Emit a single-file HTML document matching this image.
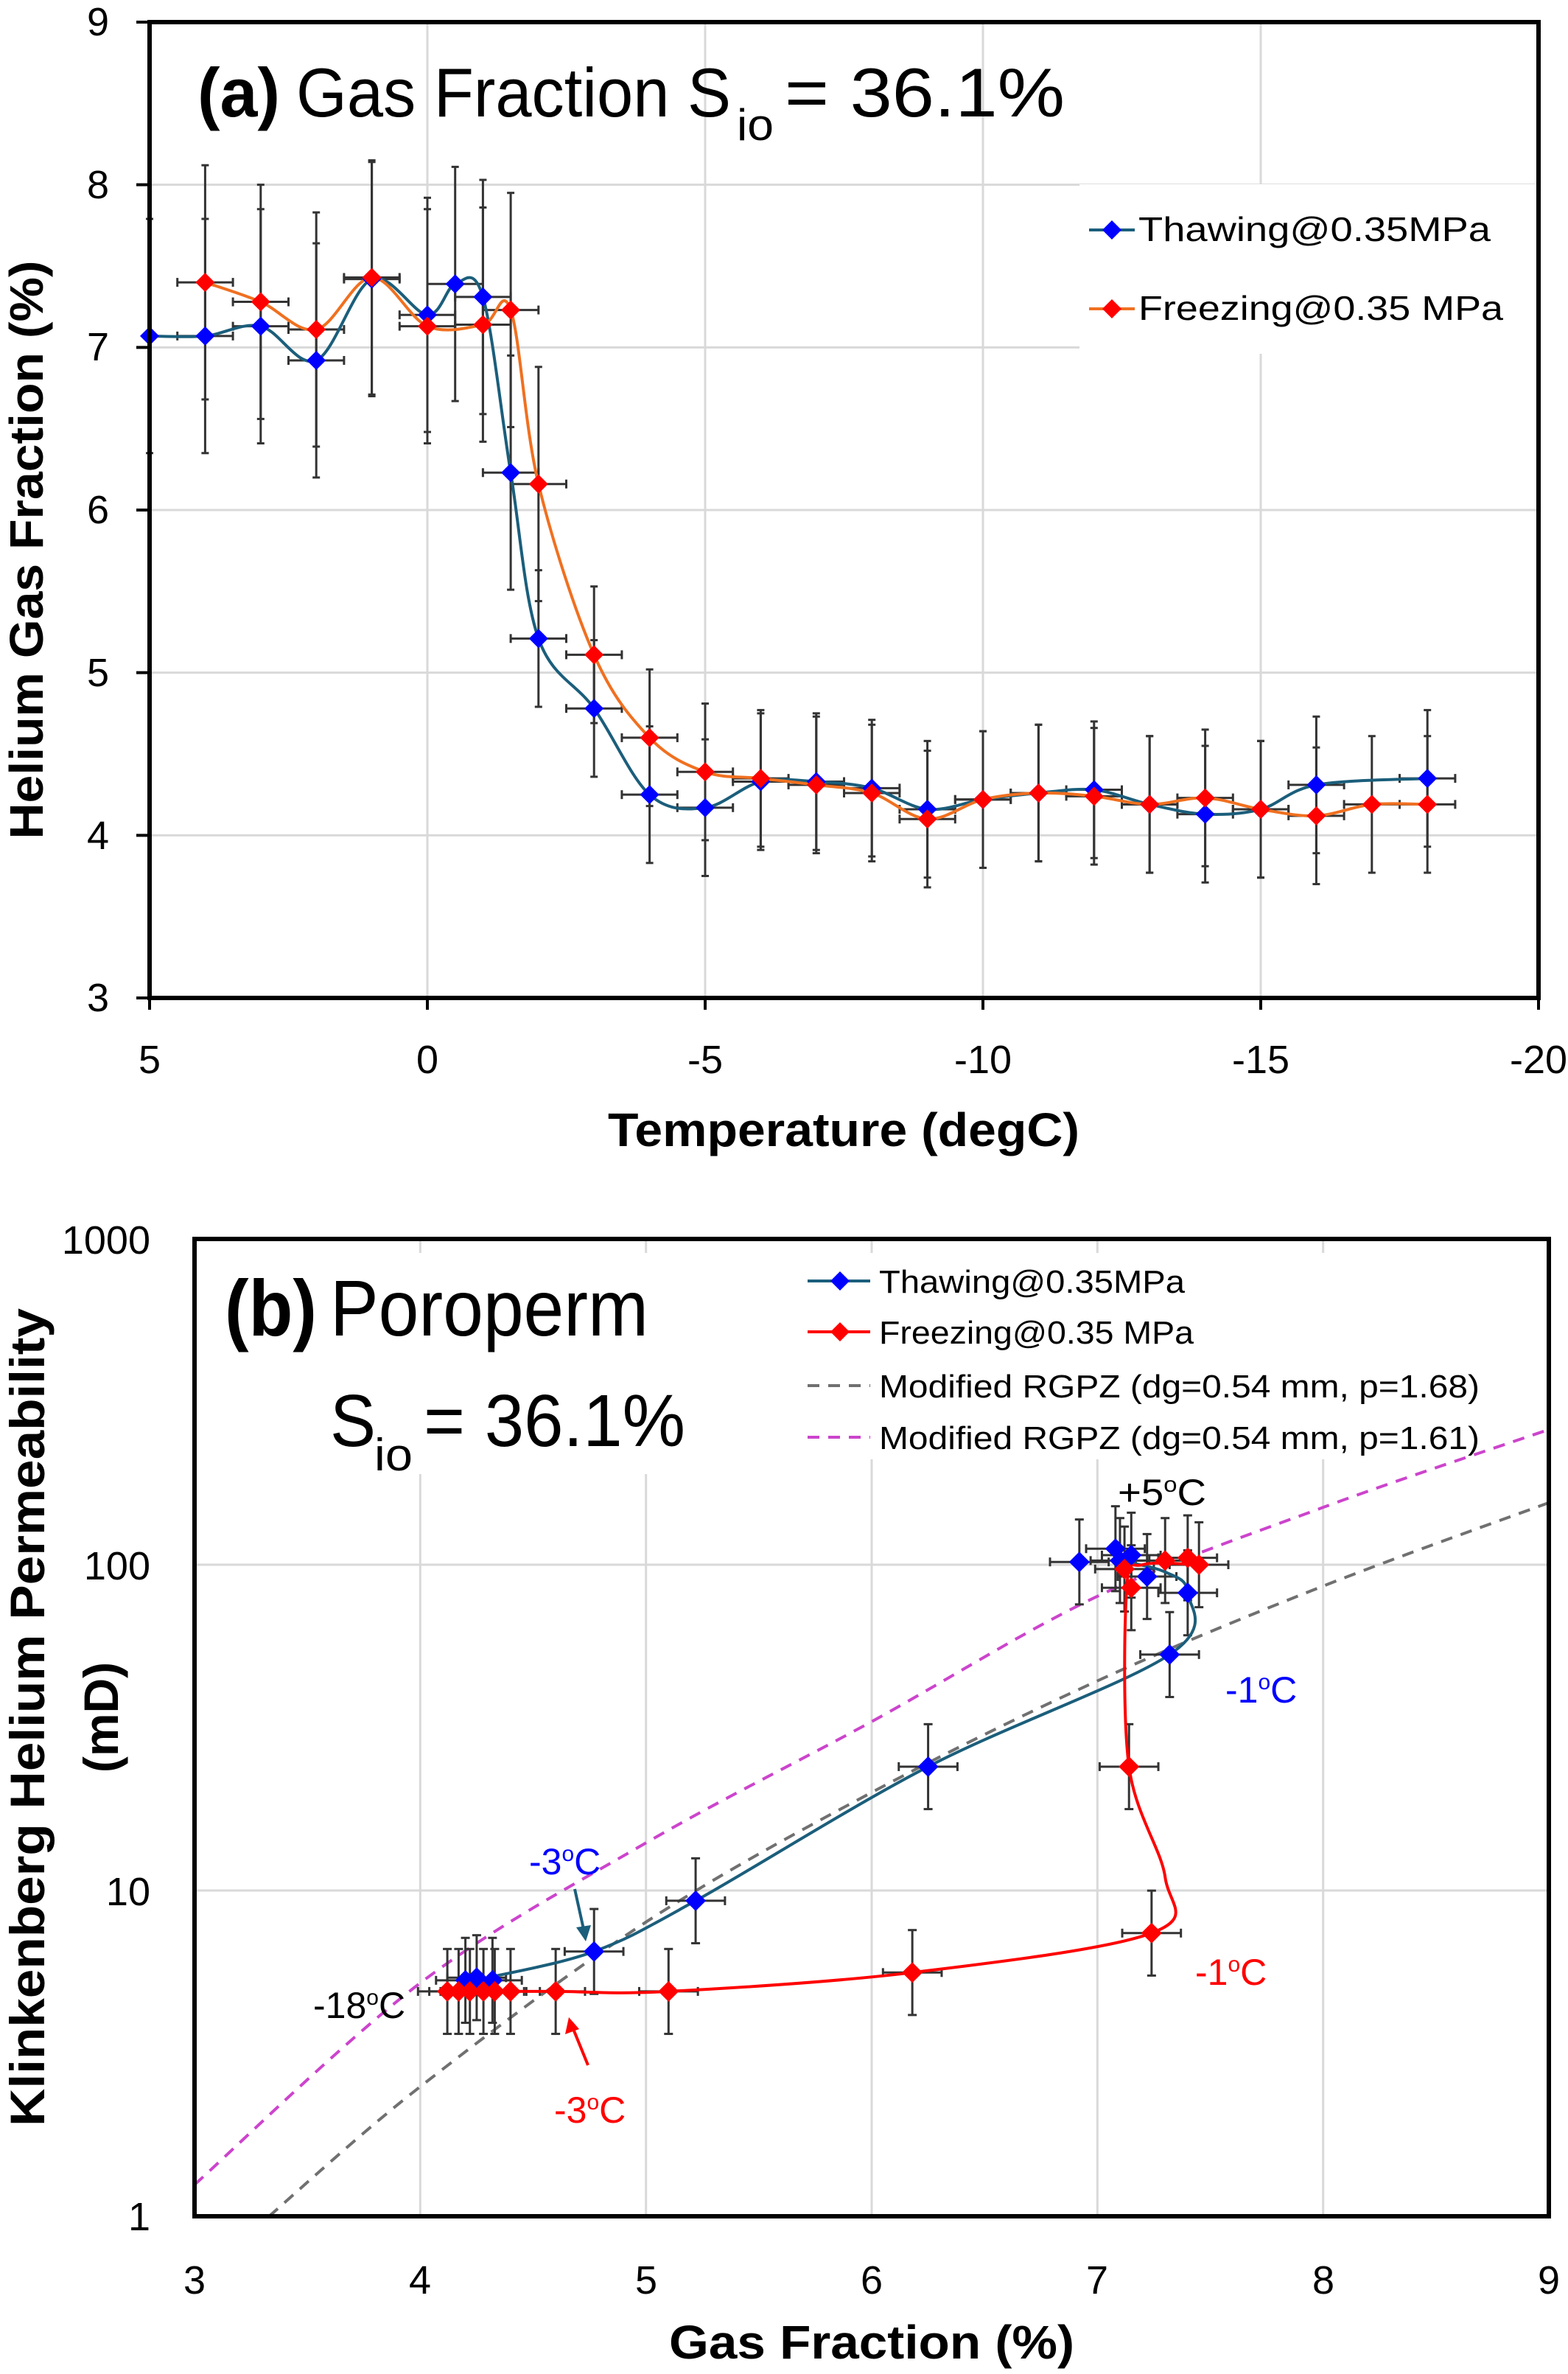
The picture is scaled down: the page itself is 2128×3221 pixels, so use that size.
<!DOCTYPE html>
<html><head><meta charset="utf-8">
<style>
html,body{margin:0;padding:0;background:#fff;}
svg{display:block;}
text{font-family:"Liberation Sans",sans-serif;fill:#000;}
</style></head>
<body>
<svg id="s" width="2128" height="3221" viewBox="0 0 2128 3221" xmlns="http://www.w3.org/2000/svg">
<rect width="2128" height="3221" fill="#fff"/>
<g id="g1"></g>
<g id="g2"></g>
<rect x="1465" y="250" width="620" height="230" fill="#fff"/>
<g id="leg1"></g>
<text x="268" y="158" font-size="94" font-weight="bold" textLength="112" lengthAdjust="spacingAndGlyphs">(a)</text>
<text x="402" y="158" font-size="94" textLength="590" lengthAdjust="spacingAndGlyphs">Gas Fraction S</text>
<text x="1000" y="190" font-size="60" textLength="50" lengthAdjust="spacingAndGlyphs">io</text>
<text x="1065" y="158" font-size="94" textLength="380" lengthAdjust="spacingAndGlyphs">= 36.1%</text>
<text x="1545" y="327" font-size="46" textLength="478" lengthAdjust="spacingAndGlyphs">Thawing@0.35MPa</text>
<text x="1545" y="434" font-size="46" textLength="495" lengthAdjust="spacingAndGlyphs">Freezing@0.35 MPa</text>
<g font-size="54" text-anchor="end">
<text x="148" y="48">9</text><text x="148" y="269">8</text><text x="148" y="489">7</text><text x="148" y="710">6</text><text x="148" y="931">5</text><text x="148" y="1152">4</text><text x="148" y="1372">3</text>
</g>
<g font-size="54" text-anchor="middle">
<text x="203" y="1456">5</text><text x="580" y="1456">0</text><text x="957" y="1456">-5</text><text x="1334" y="1456">-10</text><text x="1711" y="1456">-15</text><text x="2088" y="1456">-20</text>
</g>
<text x="1145" y="1555" font-size="64" font-weight="bold" text-anchor="middle" textLength="640" lengthAdjust="spacingAndGlyphs">Temperature (degC)</text>
<text transform="translate(58,746) rotate(-90)" font-size="64" font-weight="bold" text-anchor="middle" textLength="785" lengthAdjust="spacingAndGlyphs">Helium Gas Fraction (%)</text>

<text x="305" y="1812" font-size="108" font-weight="bold" textLength="125" lengthAdjust="spacingAndGlyphs">(b)</text>
<text x="448" y="1812" font-size="108" textLength="432" lengthAdjust="spacingAndGlyphs">Poroperm</text>
<text x="448" y="1962" font-size="100" textLength="62" lengthAdjust="spacingAndGlyphs">S</text>
<text x="508" y="1995" font-size="62" textLength="52" lengthAdjust="spacingAndGlyphs">io</text>
<text x="575" y="1962" font-size="100" textLength="355" lengthAdjust="spacingAndGlyphs">= 36.1%</text>
<g id="leg2"></g>
<text x="1193" y="1754" font-size="44" textLength="415" lengthAdjust="spacingAndGlyphs">Thawing@0.35MPa</text>
<text x="1193" y="1823" font-size="44" textLength="427" lengthAdjust="spacingAndGlyphs">Freezing@0.35 MPa</text>
<text x="1193" y="1896" font-size="44" textLength="815" lengthAdjust="spacingAndGlyphs">Modified RGPZ (dg=0.54 mm, p=1.68)</text>
<text x="1193" y="1966" font-size="44" textLength="815" lengthAdjust="spacingAndGlyphs">Modified RGPZ (dg=0.54 mm, p=1.61)</text>
<text x="1517" y="2042" font-size="50" textLength="120" lengthAdjust="spacingAndGlyphs">+5<tspan font-size="30" dy="-18">o</tspan><tspan dy="18">C</tspan></text>
<text x="1663" y="2310" font-size="50" style="fill:#0000ff">-1<tspan font-size="30" dy="-18">o</tspan><tspan dy="18">C</tspan></text>
<text x="718" y="2543" font-size="50" style="fill:#0000ff">-3<tspan font-size="30" dy="-18">o</tspan><tspan dy="18">C</tspan></text>
<text x="425" y="2738" font-size="50">-18<tspan font-size="30" dy="-18">o</tspan><tspan dy="18">C</tspan></text>
<text x="1622" y="2693" font-size="50" style="fill:#ff0000">-1<tspan font-size="30" dy="-18">o</tspan><tspan dy="18">C</tspan></text>
<text x="752" y="2880" font-size="50" style="fill:#ff0000">-3<tspan font-size="30" dy="-18">o</tspan><tspan dy="18">C</tspan></text>
<g font-size="54" text-anchor="end">
<text x="204" y="1701">1000</text><text x="204" y="2143">100</text><text x="204" y="2585">10</text><text x="204" y="3026">1</text>
</g>
<g font-size="54" text-anchor="middle">
<text x="264" y="3112">3</text><text x="570" y="3112">4</text><text x="877" y="3112">5</text><text x="1183" y="3112">6</text><text x="1489" y="3112">7</text><text x="1796" y="3112">8</text><text x="2102" y="3112">9</text>
</g>
<text x="1183" y="3200" font-size="64" font-weight="bold" text-anchor="middle" textLength="550" lengthAdjust="spacingAndGlyphs">Gas Fraction (%)</text>
<text transform="translate(60,2330) rotate(-90)" font-size="66" font-weight="bold" text-anchor="middle" textLength="1110" lengthAdjust="spacingAndGlyphs">Klinkenberg Helium Permeability</text>
<text transform="translate(160,2330) rotate(-90)" font-size="66" font-weight="bold" text-anchor="middle">(mD)</text>
</svg>
<script>
var NS="http://www.w3.org/2000/svg";
function el(p,t,a){var e=document.createElementNS(NS,t);for(var k in a)e.setAttribute(k,a[k]);p.appendChild(e);return e;}
function cr(pts){if(pts.length<2)return"";var d="M"+pts[0][0]+","+pts[0][1];for(var i=0;i<pts.length-1;i++){var p0=pts[i-1]||pts[i],p1=pts[i],p2=pts[i+1],p3=pts[i+2]||p2;var t=6;d+=" C"+(p1[0]+(p2[0]-p0[0])/t)+","+(p1[1]+(p2[1]-p0[1])/t)+" "+(p2[0]-(p3[0]-p1[0])/t)+","+(p2[1]-(p3[1]-p1[1])/t)+" "+p2[0]+","+p2[1];}return d;}
function dia(p,x,y,c,r){el(p,"path",{d:"M"+x+","+(y-r)+" L"+(x+r)+","+y+" L"+x+","+(y+r)+" L"+(x-r)+","+y+"Z",fill:c});}
function eb(p,x1,y1,x2,y2,cap,vert){el(p,"line",{x1:x1,y1:y1,x2:x2,y2:y2,stroke:"#333",'stroke-width':3});
 if(vert){el(p,"line",{x1:x1-cap,y1:y1,x2:x1+cap,y2:y1,stroke:"#333",'stroke-width':3});el(p,"line",{x1:x2-cap,y1:y2,x2:x2+cap,y2:y2,stroke:"#333",'stroke-width':3});}
 else{el(p,"line",{x1:x1,y1:y1-cap,x2:x1,y2:y1+cap,stroke:"#333",'stroke-width':3});el(p,"line",{x1:x2,y1:y2-cap,x2:x2,y2:y2+cap,stroke:"#333",'stroke-width':3});}}
var g1=document.getElementById("g1");
var L=203,R=2088,T=30,B=1354;
function X1(t){return L+(5-t)*(R-L)/25;} function Y1(v){return B-(v-3)*(B-T)/6;}
for(var v=4;v<=8;v++)el(g1,"line",{x1:L,x2:R,y1:Y1(v),y2:Y1(v),stroke:"#d9d9d9",'stroke-width':3});
for(var t=0;t>=-15;t-=5)el(g1,"line",{x1:X1(t),x2:X1(t),y1:T,y2:B,stroke:"#d9d9d9",'stroke-width':3});
for(var v=3;v<=9;v++)el(g1,"line",{x1:L-18,x2:L,y1:Y1(v),y2:Y1(v),stroke:"#000",'stroke-width':4});
for(var t=5;t>=-20;t-=5)el(g1,"line",{x1:X1(t),x2:X1(t),y1:B,y2:B+16,stroke:"#000",'stroke-width':4});
var th=[[5,7.07],[4,7.07],[3,7.13],[2,6.92],[1,7.42],[0,7.2],[-0.5,7.39],[-1,7.31],[-1.5,6.23],[-2,5.21],[-3,4.78],[-4,4.25],[-5,4.17],[-6,4.33],[-7,4.33],[-8,4.29],[-9,4.16],[-10,4.22],[-11,4.26],[-12,4.28],[-13,4.19],[-14,4.13],[-15,4.16],[-16,4.31],[-18,4.35]];
var fr=[[4,7.4],[3,7.28],[2,7.11],[1,7.43],[0,7.13],[-1,7.14],[-1.5,7.23],[-2,6.16],[-3,5.11],[-4,4.6],[-5,4.39],[-6,4.35],[-7,4.31],[-8,4.26],[-9,4.1],[-10,4.22],[-11,4.26],[-12,4.24],[-13,4.19],[-14,4.23],[-15,4.16],[-16,4.12],[-17,4.19],[-18,4.19]];
function ebs1(d){d.forEach(function(p){var e=p[1]>5.5?0.72:0.42;var x=X1(p[0]),y=Y1(p[1]);eb(g1,x,Math.max(Y1(p[1]+e),T),x,Y1(p[1]-e),5,true);if(p[0]<5)eb(g1,X1(p[0]+0.5),y,X1(p[0]-0.5),y,6,false);});}
ebs1(th);ebs1(fr);
el(g1,"path",{d:cr(th.map(function(p){return[X1(p[0]),Y1(p[1])]})),fill:"none",stroke:"#1b5e7b",'stroke-width':4});
el(g1,"path",{d:cr(fr.map(function(p){return[X1(p[0]),Y1(p[1])]})),fill:"none",stroke:"#f07020",'stroke-width':4});
th.forEach(function(p){dia(g1,X1(p[0]),Y1(p[1]),"#0000ff",13)});
fr.forEach(function(p){dia(g1,X1(p[0]),Y1(p[1]),"#ff0000",13)});
el(g1,"rect",{x:L,y:T,width:R-L,height:B-T,fill:"none",stroke:"#000",'stroke-width':6});
var lg1=document.getElementById("leg1");
el(lg1,"line",{x1:1478,x2:1540,y1:312,y2:312,stroke:"#1b5e7b",'stroke-width':4});dia(lg1,1509,312,"#0000ff",13);
el(lg1,"line",{x1:1478,x2:1540,y1:419,y2:419,stroke:"#f07020",'stroke-width':4});dia(lg1,1509,419,"#ff0000",13);
var g2=document.getElementById("g2");
var L2=264,R2=2102,T2=1681,B2=3007;
function X2(x){return L2+(x-3)*(R2-L2)/6;} function Y2(v){return B2-Math.log10(v)*(B2-T2)/3;}
for(var x=4;x<=8;x++)el(g2,"line",{x1:X2(x),x2:X2(x),y1:T2,y2:B2,stroke:"#d9d9d9",'stroke-width':3});
[10,100].forEach(function(v){el(g2,"line",{x1:L2,x2:R2,y1:Y2(v),y2:Y2(v),stroke:"#d9d9d9",'stroke-width':3});});
el(g2,"rect",{x:1085,y:1700,width:960,height:280,fill:"#fff"});
el(g2,"rect",{x:290,y:1700,width:650,height:300,fill:"#fff"});
var grey=[[3.33,1],[4,2.5],[5,8.0],[6,20],[7,44],[8,86],[9,155]];
var pink=[[3,1.25],[4,5.2],[5,14],[6,33],[7,80],[8,150],[9,260]];
function pth(a){return cr(a.map(function(p){return[X2(p[0]),Y2(p[1])]}));}
el(g2,"path",{d:pth(grey),fill:"none",stroke:"#707070",'stroke-width':4,'stroke-dasharray':"16,12"});
el(g2,"path",{d:pth(pink),fill:"none",stroke:"#cc44cc",'stroke-width':4,'stroke-dasharray':"16,12"});
var th2=[[4.2,5.3],[4.25,5.4],[4.32,5.3],[4.77,6.5],[5.22,9.3],[6.25,24],[7.32,53],[7.4,82],[7.22,92],[7.15,107],[7.08,112],[7.1,103],[6.92,102]];
var fr2=[[4.12,4.9],[4.17,4.9],[4.22,4.9],[4.28,4.9],[4.33,4.9],[4.4,4.9],[4.6,4.9],[5.1,4.9],[6.18,5.6],[7.24,7.4],[7.14,24],[7.15,85],[7.12,97],[7.3,103],[7.4,105],[7.45,100]];
function ebs2(d){d.forEach(function(p){var x=X2(p[0]),y=Y2(p[1]);eb(g2,x,Y2(p[1]*1.35),x,Y2(p[1]/1.35),6,true);eb(g2,X2(p[0]-0.13),y,X2(p[0]+0.13),y,6,false);});}
ebs2(th2);ebs2(fr2);
var thl=[[4.3,5.4],[4.77,6.5],[5.22,9.3],[6.25,24],[7.32,53],[7.4,82],[7.3,95],[7.1,103]];
el(g2,"path",{d:pth(thl),fill:"none",stroke:"#1b5e7b",'stroke-width':4});
var frl=[[4.12,4.9],[4.6,4.9],[5.1,4.9],[6.18,5.6],[7.24,7.4],[7.3,11],[7.14,24],[7.13,85],[7.2,100],[7.45,100]];
el(g2,"path",{d:pth(frl),fill:"none",stroke:"#ff0000",'stroke-width':4});
th2.forEach(function(p){dia(g2,X2(p[0]),Y2(p[1]),"#0000ff",14)});
fr2.forEach(function(p){dia(g2,X2(p[0]),Y2(p[1]),"#ff0000",14)});
el(g2,"line",{x1:780,y1:2563,x2:793,y2:2622,stroke:"#1b5e7b",'stroke-width':4});
el(g2,"path",{d:"M795,2634 L782,2615 L802,2612Z",fill:"#1b5e7b"});
el(g2,"line",{x1:798,y1:2802,x2:776,y2:2748,stroke:"#ff0000",'stroke-width':4});
el(g2,"path",{d:"M772,2737 L767,2760 L786,2753Z",fill:"#ff0000"});
el(g2,"rect",{x:L2,y:T2,width:R2-L2,height:B2-T2,fill:"none",stroke:"#000",'stroke-width':6});
var lg2=document.getElementById("leg2");
el(lg2,"line",{x1:1096,x2:1181,y1:1738,y2:1738,stroke:"#1b5e7b",'stroke-width':4});dia(lg2,1140,1738,"#0000ff",13);
el(lg2,"line",{x1:1096,x2:1181,y1:1807,y2:1807,stroke:"#ff0000",'stroke-width':4});dia(lg2,1140,1807,"#ff0000",13);
el(lg2,"line",{x1:1096,x2:1181,y1:1880,y2:1880,stroke:"#707070",'stroke-width':4,'stroke-dasharray':"16,12"});
el(lg2,"line",{x1:1096,x2:1181,y1:1950,y2:1950,stroke:"#cc44cc",'stroke-width':4,'stroke-dasharray':"16,12"});
</script>
</body></html>
